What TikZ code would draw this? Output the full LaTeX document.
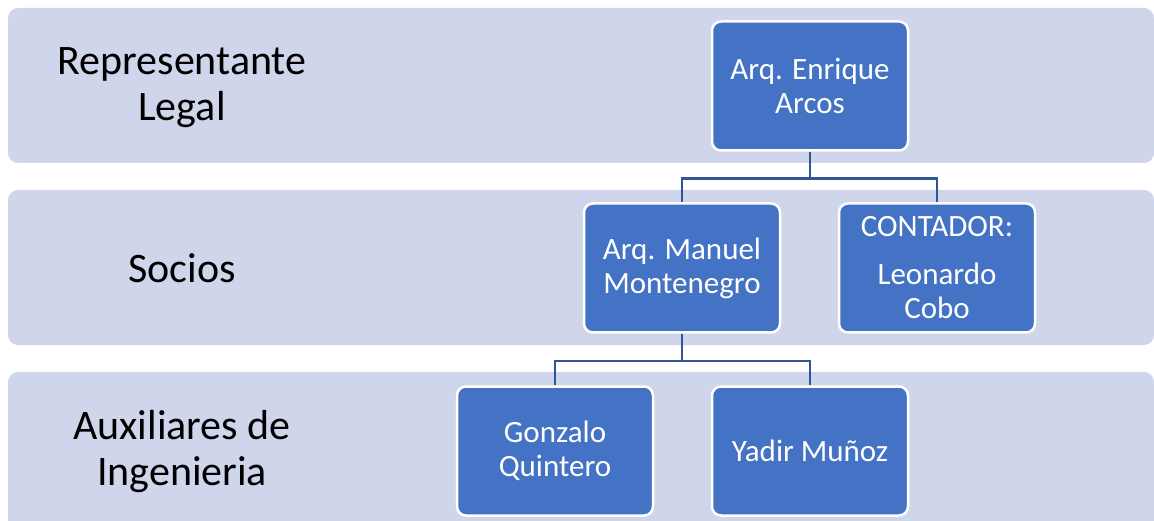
\documentclass[tikz,border=0pt]{standalone}
\usepackage{fontspec}
\setmainfont{Carlito}
\usepackage{tikz}

\definecolor{bandfill}{HTML}{CFD5EA}
\definecolor{boxfill}{HTML}{4472C4}
\definecolor{linecol}{HTML}{2F5597}

\begin{document}
\begin{tikzpicture}[x=1pt,y=-1pt]
    \tikzstyle{band}=[fill=bandfill, rounded corners=10pt]
    \tikzstyle{person}=[draw=white, line width=2.5pt, fill=boxfill, rounded corners=9pt,
        minimum width=196pt, minimum height=129pt, inner sep=0pt,
        text=white, align=center, font=\fontsize{31}{34}\selectfont]
    \tikzstyle{level}=[align=center, font=\fontsize{42}{46}\selectfont]
    \tikzstyle{link}=[draw=linecol, line width=2.5pt]
    \useasboundingbox (0,0) rectangle (1154,521);
    \clip (0,0) rectangle (1154,521);
    % bands
    \fill [band] (8,8) rectangle (1154,163);
    \fill [band] (8,190) rectangle (1154,345);
    \fill [band] (8,372) rectangle (1154,540);
    \node [level] (legal) at (182,88) {Representante\\Legal};
    \node [level] (socios) at (182,268) {Socios};
    \node [level] (aux) at (182,452) {Auxiliares de\\Ingenieria};
    % people
    \node [person] (enrique) at (810,86) {Arq. Enrique\\Arcos};
    \node [person] (manuel) at (682,268) {Arq. Manuel\\Montenegro};
    \node [person] (contador) at (937,268) {CONTADOR:\\[14pt]Leonardo\\Cobo};
    \node [person] (gonzalo) at (555,451) {Gonzalo\\Quintero};
    \node [person] (yadir) at (810,451) {Yadir Muñoz};
    % links
    \draw [link] (enrique.south) -- ++(0,27) -| (manuel.north);
    \draw [link] (enrique.south) -- ++(0,27) -| (contador.north);
    \draw [link] (manuel.south) -- ++(0,27) -| (gonzalo.north);
    \draw [link] (manuel.south) -- ++(0,27) -| (yadir.north);
\end{tikzpicture}
\end{document}
